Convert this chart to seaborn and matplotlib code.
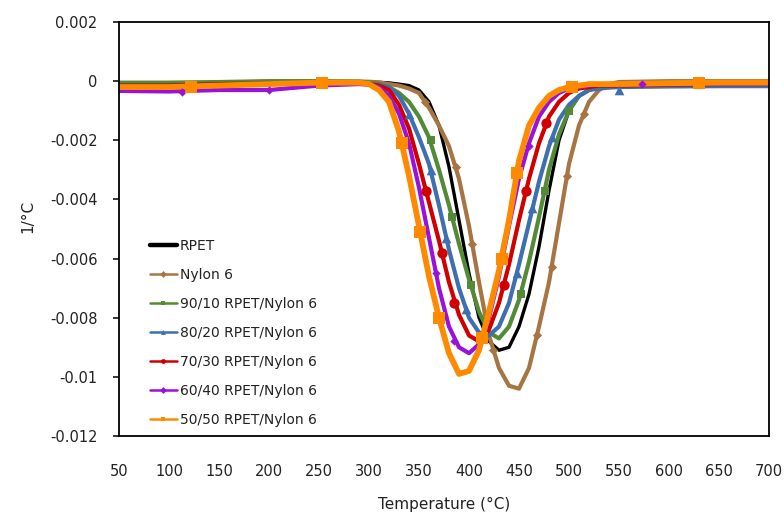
import matplotlib
matplotlib.use("Agg")
import matplotlib.pyplot as plt
import seaborn as sns
import pandas as pd
from matplotlib.lines import Line2D

# ---------------- data ----------------
temperature = [50, 100, 150, 200, 250, 290, 300, 310, 320, 330, 340, 350, 360, 370,
               380, 390, 400, 410, 420, 430, 440, 450, 460, 470, 480, 490, 500, 510,
               520, 530, 540, 550, 600, 650, 700]

rpet = [-0.0001, -0.0001, -0.00008, -0.00005, -0.00003, -0.00002,
        -0.00003, -0.00004, -0.00006, -0.0001, -0.00015, -0.0003, -0.0007, -0.0015,
        -0.0029, -0.0047, -0.0065, -0.0080, -0.0088, -0.0091, -0.0090, -0.0083, -0.0072,
        -0.0056, -0.0037, -0.0020, -0.0010, -0.0005, -0.0003, -0.0002, -0.00017,
        -0.00015, -0.00012, -0.0001, -0.0001]

nylon6 = [-0.0001, -0.0001, -0.00005, -0.00002, -0.00001, -0.00001,
          -0.00002, -0.00004, -0.0001, -0.00015, -0.00025, -0.0004, -0.0009, -0.0015,
          -0.0022, -0.0033, -0.0049, -0.0068, -0.0086, -0.0097, -0.0103, -0.0104, -0.0097,
          -0.0083, -0.0068, -0.0048, -0.0028, -0.0015, -0.0007, -0.0003, -0.0001,
          -0.00003, 0.0, 0.0, 0.0]

b90_10 = [-0.00005, -0.00005, -0.00003, 0.0, 0.0, -0.00002,
          -0.00005, -0.0001, -0.0002, -0.0004, -0.0007, -0.0012, -0.0019, -0.0030,
          -0.0042, -0.0055, -0.0067, -0.0078, -0.0085, -0.0087, -0.0083, -0.0074, -0.0061,
          -0.0046, -0.0030, -0.0018, -0.0010, -0.0005, -0.0003, -0.0002, -0.00016,
          -0.00015, -0.00012, -0.0001, -0.0001]

b80_20 = [-0.00015, -0.00015, -0.0001, -0.00008, -0.00005, -0.00005,
          -0.0001, -0.00015, -0.0002, -0.0005, -0.0011, -0.0019, -0.0028, -0.0042,
          -0.0057, -0.0070, -0.0080, -0.0085, -0.0086, -0.0083, -0.0075, -0.0062, -0.0048,
          -0.0034, -0.0022, -0.0013, -0.0008, -0.0005, -0.0003, -0.00025, -0.00022,
          -0.0002, -0.00018, -0.00017, -0.00017]

b70_30 = [-0.00015, -0.00015, -0.0001, -0.00008, -0.00005, -0.00005,
          -0.0001, -0.00015, -0.0003, -0.0008, -0.0016, -0.0028, -0.0041, -0.0054,
          -0.0068, -0.0079, -0.0086, -0.0088, -0.0084, -0.0075, -0.0062, -0.0047, -0.0033,
          -0.0021, -0.0012, -0.0007, -0.0004, -0.00025, -0.0002, -0.00015, -0.00015,
          -0.00015, -0.00012, -0.0001, -0.0001]

b60_40 = [-0.00033, -0.00035, -0.0003, -0.0003, -0.00015, -0.0001,
          -0.00012, -0.0002, -0.0005, -0.0011, -0.0021, -0.0036, -0.0053, -0.0070,
          -0.0083, -0.0090, -0.0092, -0.0089, -0.0080, -0.0066, -0.0049, -0.0033, -0.0021,
          -0.0012, -0.0007, -0.0004, -0.00025, -0.0002, -0.00015, -0.00012, -0.0001,
          -0.0001, -0.00008, -0.00008, -0.00008]

b50_50 = [-0.0002, -0.0002, -0.00015, -0.0001, -0.00005, -0.00005,
          -0.0001, -0.0003, -0.0007, -0.0017, -0.0032, -0.0049, -0.0066, -0.0080,
          -0.0092, -0.0099, -0.0098, -0.0091, -0.0078, -0.0064, -0.0047, -0.0027, -0.0015,
          -0.0009, -0.0005, -0.0003, -0.0002, -0.00015, -0.0001, -0.0001, -0.0001,
          -0.0001, -0.00007, -0.00005, -0.00005]

# marker positions (data points shown with symbols)
nylon6_mk_t = [356, 387, 403, 424, 468, 483, 498, 515]
nylon6_mk_v = [-0.0007, -0.0029, -0.0055, -0.0091, -0.0086, -0.0063, -0.0032, -0.0011]
b90_10_mk_t = [362, 383, 402, 452, 476, 500]
b90_10_mk_v = [-0.0020, -0.0046, -0.0069, -0.0072, -0.0037, -0.0010]
b80_20_mk_t = [340, 362, 377, 397, 448, 463, 483, 550]
b80_20_mk_v = [-0.0011, -0.0030, -0.0053, -0.0077, -0.0065, -0.0043, -0.0019, -0.0003]
b70_30_mk_t = [357, 373, 385, 435, 457, 477]
b70_30_mk_v = [-0.0037, -0.0058, -0.0075, -0.0069, -0.0037, -0.0014]
b60_40_mk_t = [113, 200, 367, 385, 460, 573]
b60_40_mk_v = [-0.00037, -0.0003, -0.0065, -0.0088, -0.0022, -0.0001]
b50_50_mk_t = [122, 253, 333, 351, 370, 413, 433, 448, 503, 630]
b50_50_mk_v = [-0.0002, -0.00005, -0.0021, -0.0051, -0.0080, -0.0087, -0.0060, -0.0031, -0.0002, -0.00005]

labels = ["RPET", "Nylon 6", "90/10 RPET/Nylon 6", "80/20 RPET/Nylon 6",
          "70/30 RPET/Nylon 6", "60/40 RPET/Nylon 6", "50/50 RPET/Nylon 6"]
x_ticks = [50, 100, 150, 200, 250, 300, 350, 400, 450, 500, 550, 600, 650, 700]
y_ticks = [0.002, 0, -0.002, -0.004, -0.006, -0.008, -0.01, -0.012]
y_tick_labels = ["0.002", "0", "-0.002", "-0.004", "-0.006", "-0.008", "-0.01", "-0.012"]

# ---------------- styling ----------------
sns.set_style("white")
plt.rcParams["font.family"] = ["DejaVu Sans"]

series = [
    (rpet, None, None, "#000000", 2.4, None, 0, 3.2),
    (nylon6, nylon6_mk_t, nylon6_mk_v, "#A67543", 3.0, "D", 22, 1.8),
    (b90_10, b90_10_mk_t, b90_10_mk_v, "#528A35", 3.0, "s", 36, 1.8),
    (b80_20, b80_20_mk_t, b80_20_mk_v, "#3E6FB0", 3.0, "^", 48, 1.8),
    (b70_30, b70_30_mk_t, b70_30_mk_v, "#D00000", 3.0, "o", 55, 1.8),
    (b60_40, b60_40_mk_t, b60_40_mk_v, "#9A12D8", 3.0, "D", 18, 1.8),
    (b50_50, b50_50_mk_t, b50_50_mk_v, "#FF8A00", 4.2, "s", 70, 1.8),
]

fig = plt.figure(figsize=(7.84, 5.16), dpi=100)
ax = fig.add_axes([119 / 784, 1 - 436 / 516, 650 / 784, 414 / 516])

handles = []
for (vals, mk_t, mk_v, color, lw, marker, msize, leg_lw), lab in zip(series, labels):
    df = pd.DataFrame({"T": temperature, "v": vals})
    sns.lineplot(data=df, x="T", y="v", ax=ax, color=color, linewidth=lw,
                 solid_joinstyle="round", solid_capstyle="round", legend=False)
    if mk_t is not None:
        mdf = pd.DataFrame({"T": mk_t, "v": mk_v})
        sns.scatterplot(data=mdf, x="T", y="v", ax=ax, color=color, marker=marker,
                        s=msize, edgecolor=color, linewidth=0, legend=False, zorder=3)
    handles.append(Line2D([], [], color=color, lw=leg_lw,
                          marker=marker if marker else None, markersize=3.5,
                          markeredgewidth=0))

ax.set_xlim(50, 700)
ax.set_ylim(-0.012, 0.002)
ax.set_xticks(x_ticks)
ax.set_xticklabels([str(t) for t in x_ticks])
ax.set_yticks(y_ticks)
ax.set_yticklabels(y_tick_labels)
ax.tick_params(axis="x", length=0, pad=20, labelsize=10.5, colors="#222222")
ax.tick_params(axis="y", length=4.5, width=1.1, pad=11, labelsize=10.5,
               left=True, direction="out", color="black", labelcolor="#222222")

for sp in ax.spines.values():
    sp.set_visible(True)
    sp.set_color("black")
    sp.set_linewidth(1.3)

ax.set_xlabel("Temperature (°C)", fontsize=11, labelpad=13, color="#222222")
ax.set_ylabel("1/°C", fontsize=11, color="#222222")
ax.yaxis.set_label_coords(-0.128, 0.53)

leg = ax.legend(handles, labels, loc="upper left", bbox_to_anchor=(0.047, 0.477),
                frameon=False, fontsize=10, handlelength=2.0, handletextpad=0.2,
                labelspacing=1.08, borderaxespad=0, borderpad=0)
for t in leg.get_texts():
    t.set_color("#222222")

fig.savefig("out.png", dpi=100)
